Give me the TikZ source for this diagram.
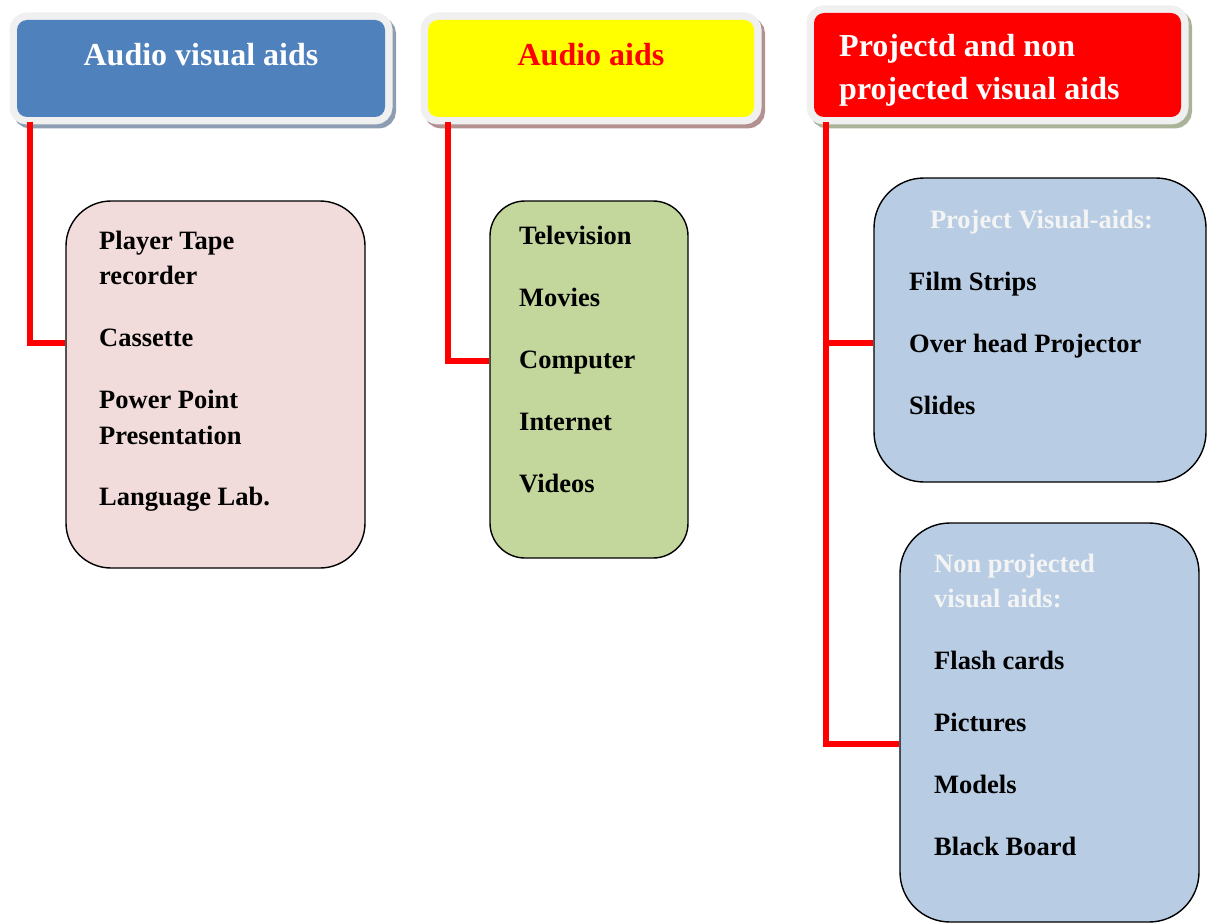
\documentclass[tikz,border=0pt]{standalone}
\usepackage{fontspec}
\setmainfont{Liberation Serif}
\definecolor{hblue}{HTML}{4F81BD}
\definecolor{hyellow}{HTML}{FFFF00}
\definecolor{hred}{HTML}{FF0000}
\definecolor{bpink}{HTML}{F2DCDB}
\definecolor{bgreen}{HTML}{C3D69B}
\definecolor{bblue}{HTML}{B8CCE4}
\definecolor{rim}{HTML}{F0F0F0}
\definecolor{shblue}{HTML}{8E9EB2}
\definecolor{shyellow}{HTML}{B39191}
\definecolor{shred}{HTML}{A9B398}
\definecolor{offwhite}{HTML}{F4F4F4}
\tikzset{
  hdr/.style 2 args={rectangle, rounded corners=10pt, inner sep=0pt, fill=#1,
    preaction={draw=#2, fill=#2, line width=15pt, transform canvas={xshift=3.5pt,yshift=-4pt}},
    preaction={draw=rim, fill=rim, line width=15pt}},
  hdrtext/.style={font=\fontsize{32}{38}\selectfont\bfseries, inner sep=0pt},
  itembox/.style={rectangle, draw=black, line width=1.4pt, inner sep=0pt},
  item/.style={font=\fontsize{26.5}{32}\selectfont\bfseries, inner sep=0pt, anchor=base west},
  conn/.style={draw=hred, line width=5.5pt, line join=miter},
}
\begin{document}
\begin{tikzpicture}[x=1pt,y=-1pt]
\useasboundingbox (0,0) rectangle (1207,923);
% headers
\node[hdr={hblue}{shblue}, minimum width=368pt, minimum height=97pt] (h1) at (201,68.5) {};
\node[hdr={hyellow}{shyellow}, minimum width=326pt, minimum height=97pt] (h2) at (591,68.5) {};
\node[hdr={hred}{shred}, minimum width=367pt, minimum height=104pt] (h3) at (997.5,65) {};
\node[hdrtext, anchor=base, text=white] (t1) at (201,65.5) {Audio visual aids};
\node[hdrtext, anchor=base, text=hred] (t2) at (591,65.5) {Audio aids};
\node[hdrtext, anchor=base west, text=white] (t3a) at (839,57) {Projectd and non};
\node[hdrtext, anchor=base west, text=white] (t3b) at (839,99.5) {projected visual aids};
% item boxes
\node[itembox, fill=bpink, rounded corners=45pt, minimum width=299pt, minimum height=367pt] (bA) at (215.5,384.5) {};
\node[itembox, fill=bgreen, rounded corners=35pt, minimum width=198pt, minimum height=357pt] (bB) at (589,379.5) {};
\node[itembox, fill=bblue, rounded corners=50pt, minimum width=332pt, minimum height=304pt] (bC) at (1040,330) {};
\node[itembox, fill=bblue, rounded corners=50pt, minimum width=299pt, minimum height=399pt] (bD) at (1049.5,722.5) {};
% connectors
\coordinate (c1) at (30,122);
\coordinate (c2) at (448,122);
\coordinate (c3) at (826,122);
\draw[conn] (c1) |- ([yshift=41.5pt]bA.west);
\draw[conn] (c2) |- ([yshift=18.5pt]bB.west);
\draw[conn] (c3) |- ([yshift=-21.5pt]bD.west);
\draw[conn] (c3 |- bC.west) ++(0,13) -- ([yshift=-13pt]bC.west);
% box A texts
\node[item] (a1) at (99,249.5) {Player Tape};
\node[item] (a2) at (99,284.5) {recorder};
\node[item] (a3) at (99,346.5) {Cassette};
\node[item] (a4) at (99,408.5) {Power Point};
\node[item] (a5) at (99,444.5) {Presentation};
\node[item] (a6) at (99,505.5) {Language Lab.};
% box B texts
\node[item] (b1) at (519,244) {Television};
\node[item] (b2) at (519,306.5) {Movies};
\node[item] (b3) at (519,368.5) {Computer};
\node[item] (b4) at (519,430) {Internet};
\node[item] (b5) at (519,492.5) {Videos};
% box C texts
\node[item, anchor=base, text=offwhite] (p0) at (1041.5,228.5) {Project Visual-aids:};
\node[item] (p1) at (909,290) {Film Strips};
\node[item] (p2) at (909,352.5) {Over head Projector};
\node[item] (p3) at (909,414) {Slides};
% box D texts
\node[item, text=offwhite] (n0) at (934,572.5) {Non projected};
\node[item, text=offwhite] (n0b) at (934,607.5) {visual aids:};
\node[item] (n1) at (934,669) {Flash cards};
\node[item] (n2) at (934,731.5) {Pictures};
\node[item] (n3) at (934,793.5) {Models};
\node[item] (n4) at (934,855) {Black Board};
\end{tikzpicture}
\end{document}
